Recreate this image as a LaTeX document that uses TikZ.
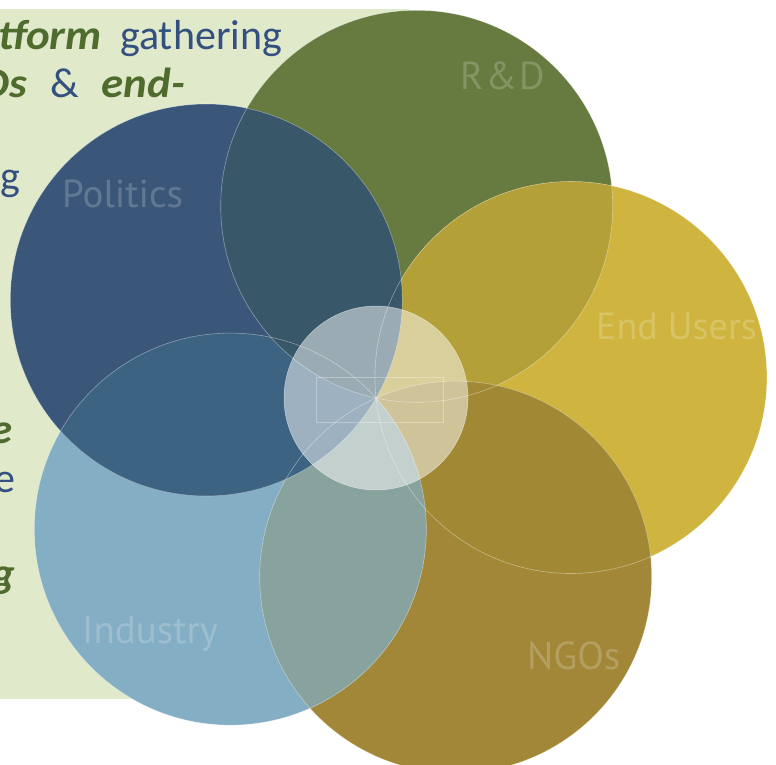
\documentclass[tikz,border=0pt]{standalone}
\usepackage{fontspec}
\setmainfont{Carlito}
\newfontfamily\kwfont[FakeStretch=1.07]{Carlito}
\newfontfamily\lblfont{PT Sans}

\definecolor{boxgreen}{HTML}{E0EACB}
\definecolor{txtgreen}{HTML}{4F6B2E}
\definecolor{txtblue}{HTML}{34507F}
\definecolor{rdcol}{HTML}{677A3F}
\definecolor{eucol}{HTML}{CFB43F}
\definecolor{ngocol}{HTML}{A18737}
\definecolor{indcol}{HTML}{84AEC4}
\definecolor{polcol}{HTML}{3A5779}
% where two neighbours overlap
\definecolor{rdeu}{HTML}{B4A038}
\definecolor{eungo}{HTML}{A08835}
\definecolor{ngoind}{HTML}{88A29E}
\definecolor{indpol}{HTML}{3C6382}
\definecolor{polrd}{HTML}{385869}

\newcommand{\kw}[1]{{\kwfont\bfseries\itshape\color{txtgreen}#1}}

\tikzset{
	petal/.style={circle, inner sep=0pt, minimum size=392pt},
	rim/.style={draw=white, draw opacity=0.4, line width=0.6pt},
	hub/.style={circle, inner sep=0pt, minimum size=184pt, fill=white, fill opacity=0.5, draw=white, draw opacity=0.5, line width=0.5pt},
	lbl/.style={anchor=base west, inner sep=0pt, font=\lblfont\fontsize{39}{39}\selectfont, text=white, text opacity=0.2},
	txt/.style={inner sep=0pt, font=\fontsize{42}{50}\selectfont, text=txtblue}
}

\begin{document}
\begin{tikzpicture}[x=1pt, y=-1pt]

	\useasboundingbox (0,0) rectangle (776,764);
	\clip (0,0) rectangle (776,764);

	% text panel behind the circles
	\node 	(panel)	at	(0,9) 	[anchor=north west, fill=boxgreen, inner sep=0pt, minimum width=409pt, minimum height=690pt]{};

	\node 	(t1a)	at	(102,49) 	[txt, anchor=base east]{\kw{tform}};
	\node 	(t1b)	at	(120,49) 	[txt, anchor=base west]{gathering};
	\node 	(t2a)	at	(27,97) 	[txt, anchor=base east]{\kw{Os}};
	\node 	(t2b)	at	(50,97) 	[txt, anchor=base west]{\&};
	\node 	(t2c)	at	(185,97) 	[txt, anchor=base east]{\kw{end-}};
	\node 	(t3)	at	(20,190) 	[txt, anchor=base east]{g};
	\node 	(t4)	at	(13,443) 	[txt, anchor=base east]{\kw{e}};
	\node 	(t5)	at	(16,492) 	[txt, anchor=base east]{e};
	\node 	(t6)	at	(15,587) 	[txt, anchor=base east]{\kw{g}};

	% the five circles
	\node 	(rd)	at	(416.7,206.3) 	[petal, fill=rdcol]{};
	\node 	(eu)	at	(570.9,377.5) 	[petal, fill=eucol]{};
	\node 	(ngo)	at	(455.7,577.1) 	[petal, fill=ngocol]{};
	\node 	(ind)	at	(230.3,529.1) 	[petal, fill=indcol]{};
	\node 	(pol)	at	(206.3,300) 	[petal, fill=polcol]{};

	\begin{scope}
		\clip (rd.center) circle (196);
		\fill[rdeu] (eu.center) circle (196);
	\end{scope}
	\begin{scope}
		\clip (eu.center) circle (196);
		\fill[eungo] (ngo.center) circle (196);
	\end{scope}
	\begin{scope}
		\clip (ngo.center) circle (196);
		\fill[ngoind] (ind.center) circle (196);
	\end{scope}
	\begin{scope}
		\clip (ind.center) circle (196);
		\fill[indpol] (pol.center) circle (196);
	\end{scope}
	\begin{scope}
		\clip (pol.center) circle (196);
		\fill[polrd] (rd.center) circle (196);
	\end{scope}

	\draw[rim] (rd.center) circle (196);
	\draw[rim] (eu.center) circle (196);
	\draw[rim] (ngo.center) circle (196);
	\draw[rim] (ind.center) circle (196);
	\draw[rim] (pol.center) circle (196);

	\node 	(hubc)	at	(376,398) 	[hub]{};
	\node 	(hubbox)	at	(379.5,399.5) 	[draw=white, draw opacity=0.3, line width=0.5pt, minimum width=127pt, minimum height=45pt]{};

	\node 	(lrd)	at	(460,89) 	[lbl]{R\kern2pt\&\kern2pt D};
	\node 	(leu)	at	(596,339) 	[lbl, font=\lblfont\fontsize{38}{38}\selectfont]{End Users};
	\node 	(lngo)	at	(527,669) 	[lbl]{NGOs};
	\node 	(lind)	at	(82,643) 	[lbl]{Industry};
	\node 	(lpol)	at	(62,207) 	[lbl]{Politics};

\end{tikzpicture}
\end{document}
